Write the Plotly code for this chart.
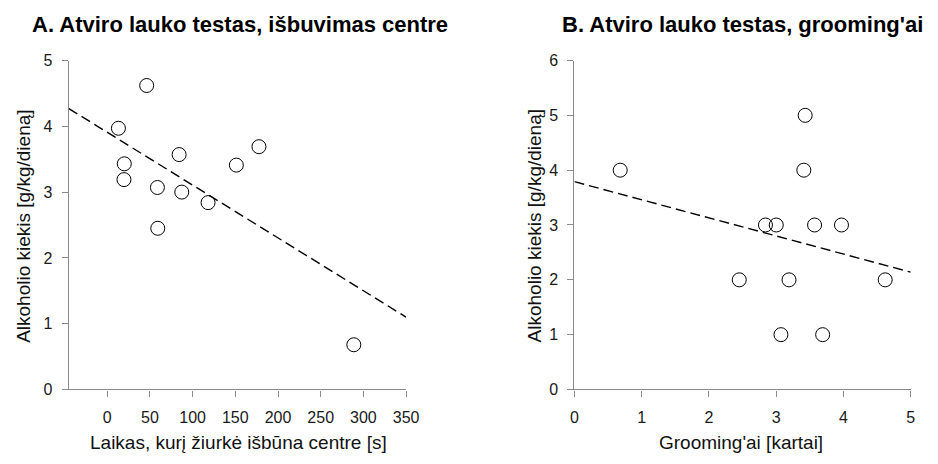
import plotly.graph_objects as go

# Panel A: time spent in the centre vs alcohol intake
time_in_centre_s = [46.2, 13.1, 20.0, 19.6, 58.8, 59.2, 84.2, 87.3, 118.1, 151.2, 177.7, 288.8]
alcohol_a = [4.62, 3.97, 3.43, 3.19, 3.07, 2.45, 3.57, 3.00, 2.84, 3.41, 3.69, 0.68]
trend_a_x = [-45, 350]
trend_a_y = [4.27, 1.10]

# Panel B: grooming counts vs alcohol intake
grooming_count = [0.68, 2.45, 2.84, 3.00, 3.07, 3.19, 3.41, 3.43, 3.57, 3.69, 3.97, 4.62]
alcohol_b = [4, 2, 3, 3, 1, 2, 4, 5, 3, 1, 3, 2]
trend_b_x = [0, 5]
trend_b_y = [3.79, 2.14]

ticks_a_x = [0, 50, 100, 150, 200, 250, 300, 350]
ticks_a_y = [0, 1, 2, 3, 4, 5]
ticks_b_x = [0, 1, 2, 3, 4, 5]
ticks_b_y = [0, 1, 2, 3, 4, 5, 6]

FONT = "Arial, 'Liberation Sans', sans-serif"
AXIS_GREY = "#8a8a8a"

fig = go.Figure()

marker_style = dict(symbol="circle-open", size=14, color="black", line=dict(width=1, color="black"))
dash_style = dict(color="black", width=1.4, dash="10px,5px")

fig.add_trace(go.Scatter(x=trend_a_x, y=trend_a_y, mode="lines", line=dash_style,
                         xaxis="x", yaxis="y", showlegend=False, hoverinfo="skip"))
fig.add_trace(go.Scatter(x=time_in_centre_s, y=alcohol_a, mode="markers", marker=marker_style,
                         xaxis="x", yaxis="y", showlegend=False))
fig.add_trace(go.Scatter(x=trend_b_x, y=trend_b_y, mode="lines", line=dash_style,
                         xaxis="x2", yaxis="y2", showlegend=False, hoverinfo="skip"))
fig.add_trace(go.Scatter(x=grooming_count, y=alcohol_b, mode="markers", marker=marker_style,
                         xaxis="x2", yaxis="y2", showlegend=False))

H = 464
W = 938
y_dom = [(H - 396) / H, (H - 54.5) / H]

axis_common = dict(
    showline=True, linecolor=AXIS_GREY, linewidth=1.3,
    ticks="outside", ticklen=6, tickcolor=AXIS_GREY, tickwidth=1,
    showgrid=False, zeroline=False,
    tickfont=dict(family=FONT, size=16, color="#1a1a1a"),
    fixedrange=True,
)

fig.update_layout(
    width=W, height=H,
    margin=dict(l=0, r=0, t=0, b=0),
    paper_bgcolor="white", plot_bgcolor="white",
    xaxis=dict(domain=[66 / W, 409.5 / W], range=[-45, 350], tickvals=ticks_a_x,
               anchor="y", ticklabelstandoff=7, **axis_common),
    yaxis=dict(domain=y_dom, range=[0, 5], tickvals=ticks_a_y, anchor="x",
               ticklabelstandoff=6, **axis_common),
    xaxis2=dict(domain=[581 / W, 923.5 / W], range=[0, 5], tickvals=ticks_b_x,
                anchor="y2", ticklabelstandoff=7, **axis_common),
    yaxis2=dict(domain=y_dom, range=[0, 6], tickvals=ticks_b_y, anchor="x2",
                ticklabelstandoff=6, **axis_common),
)

title_font = dict(family=FONT, size=22, color="black")
label_font = dict(family=FONT, size=19, color="#111111")

annotations = [
    dict(text="<b>A. Atviro lauko testas, išbuvimas centre</b>", x=240 / W, y=(H - 17) / H,
         font=title_font),
    dict(text="<b>B. Atviro lauko testas, grooming'ai</b>", x=752.5 / W, y=(H - 17) / H,
         font=title_font),
    dict(text="Laikas, kurį žiurkė išbūna centre [s]", x=238.5 / W, y=(H - 451) / H,
         font=label_font),
    dict(text="Grooming'ai [kartai]", x=751 / W, y=(H - 451) / H, font=label_font),
    dict(text="Alkoholio kiekis [g/kg/dieną]", x=20 / W, y=(H - 226.5) / H,
         textangle=-90, font=label_font),
    dict(text="Alkoholio kiekis [g/kg/dieną]", x=540 / W, y=(H - 226.5) / H,
         textangle=-90, font=label_font),
]
for a in annotations:
    a.update(xref="paper", yref="paper", showarrow=False, xanchor="center", yanchor="middle")
fig.update_layout(annotations=annotations)

fig.write_html("out.html")
